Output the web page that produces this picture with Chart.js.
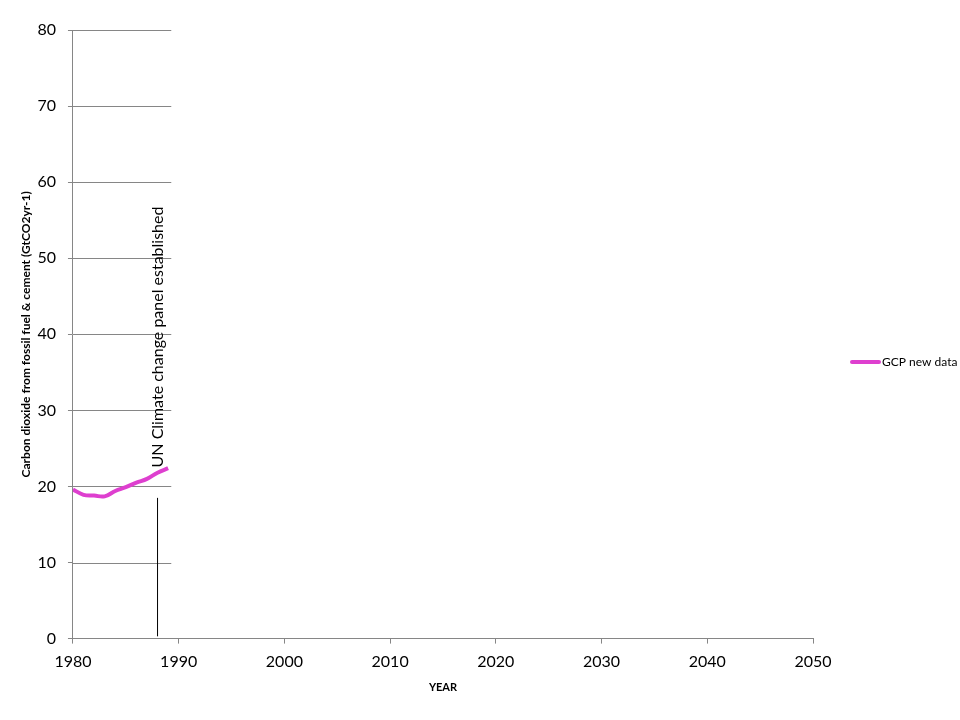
<!DOCTYPE html>
<html>
<head>
<meta charset="utf-8">
<script src="https://cdn.jsdelivr.net/npm/chart.js@4/dist/chart.umd.min.js"></script>
<style>
  html, body { margin: 0; padding: 0; background: #fff; }
  #wrap { width: 960px; height: 720px; }
</style>
</head>
<body>
<div id="wrap"><canvas id="chart1"></canvas></div>
<script>
// data
var years = [1980, 1981, 1982, 1983, 1984, 1985, 1986, 1987, 1988, 1989];
var gcpValues = [19.6, 18.9, 18.8, 18.7, 19.4, 19.9, 20.5, 21.0, 21.8, 22.4];
var eventYear = [1988, 1988];
var eventValues = [0.3, 18.5];
var eventLabel = 'UN Climate change panel established';
var xTicks = [1980, 1990, 2000, 2010, 2020, 2030, 2040, 2050];
var yTicks = [0, 10, 20, 30, 40, 50, 60, 70, 80];

var gridColor = '#868686';

// grid lines stop just past the data, and the legend sits far right (as in the original)
var extras = {
    id: 'extras',
    beforeDatasetsDraw: function(chart) {
        var ctx = chart.ctx;
        var x = chart.scales.x, y = chart.scales.y;
        var right = x.getPixelForValue(1989.3);
        ctx.save();
        ctx.strokeStyle = gridColor;
        ctx.lineWidth = 1;
        yTicks.forEach(function(v) {
            if (v === 0) return;
            var py = Math.round(y.getPixelForValue(v)) + 0.5;
            ctx.beginPath();
            ctx.moveTo(x.left, py);
            ctx.lineTo(right, py);
            ctx.stroke();
        });
        ctx.restore();
    },
    afterDatasetsDraw: function(chart) {
        var ctx = chart.ctx;
        var x = chart.scales.x, y = chart.scales.y;
        ctx.save();
        ctx.translate(x.getPixelForValue(1988), y.getPixelForValue(22.5));
        ctx.rotate(-Math.PI / 2);
        ctx.fillStyle = '#000';
        ctx.font = '16px Lato';
        ctx.textAlign = 'left';
        ctx.textBaseline = 'middle';
        ctx.fillText(eventLabel, 0, 0);
        ctx.restore();

        // legend
        var ds = chart.data.datasets[0];
        var ly = 362;
        var lx = chart.chartArea.right + 39;
        ctx.save();
        ctx.strokeStyle = ds.borderColor;
        ctx.lineWidth = 4;
        ctx.lineCap = 'round';
        ctx.beginPath();
        ctx.moveTo(lx, ly);
        ctx.lineTo(lx + 27, ly);
        ctx.stroke();
        ctx.fillStyle = '#000';
        ctx.font = '12px Lato';
        ctx.textAlign = 'left';
        ctx.textBaseline = 'middle';
        ctx.fillText(ds.label, lx + 30, ly);
        ctx.restore();
    }
};

var ctx = document.getElementById('chart1').getContext('2d');
var myChart = new Chart(ctx, {
    type: 'line',
    data: {
        datasets: [{
            label: 'GCP new data',
            data: years.map(function(yr, i) { return {x: yr, y: gcpValues[i]}; }),
            borderColor: '#de3fcf',
            backgroundColor: '#de3fcf',
            borderWidth: 4,
            pointRadius: 0,
            tension: 0.4
        },
        {
            label: 'event',
            data: eventYear.map(function(yr, i) { return {x: yr, y: eventValues[i]}; }),
            borderColor: '#000',
            borderWidth: 1,
            pointRadius: 0,
            tension: 0
        }]
    },
    options: {
        responsive: true,
        maintainAspectRatio: false,
        animation: false,
        layout: {
            padding: {top: 30, right: 147, bottom: 26, left: 19}
        },
        plugins: {
            legend: {display: false},
            tooltip: {enabled: false}
        },
        scales: {
            x: {
                type: 'linear',
                min: 1980,
                max: 2050,
                afterBuildTicks: function(axis) {
                    axis.ticks = xTicks.map(function(v) { return {value: v}; });
                },
                grid: {
                    drawOnChartArea: false,
                    drawTicks: true,
                    tickLength: 5,
                    color: gridColor
                },
                border: {color: gridColor},
                ticks: {
                    color: '#000',
                    font: {family: 'Lato', size: 16},
                    padding: 9,
                    maxRotation: 0,
                    callback: function(v) { return String(v); }
                },
                title: {
                    display: true,
                    text: 'YEAR',
                    color: '#000',
                    font: {family: 'Lato', size: 11, weight: 'bold'},
                    padding: 0
                }
            },
            y: {
                min: 0,
                max: 80,
                afterBuildTicks: function(axis) {
                    axis.ticks = yTicks.map(function(v) { return {value: v}; });
                },
                afterFit: function(axis) {
                    axis.width -= 8;
                },
                grid: {
                    drawOnChartArea: false,
                    drawTicks: true,
                    tickLength: 5,
                    color: gridColor
                },
                border: {color: gridColor},
                ticks: {
                    color: '#000',
                    font: {family: 'Lato', size: 16},
                    padding: 12
                },
                title: {
                    display: true,
                    text: 'Carbon dioxide from fossil fuel & cement (GtCO2yr-1)',
                    color: '#000',
                    font: {family: 'Lato', size: 12, weight: 'bold'},
                    padding: 0
                }
            }
        }
    },
    plugins: [extras]
});
</script>
</body>
</html>
